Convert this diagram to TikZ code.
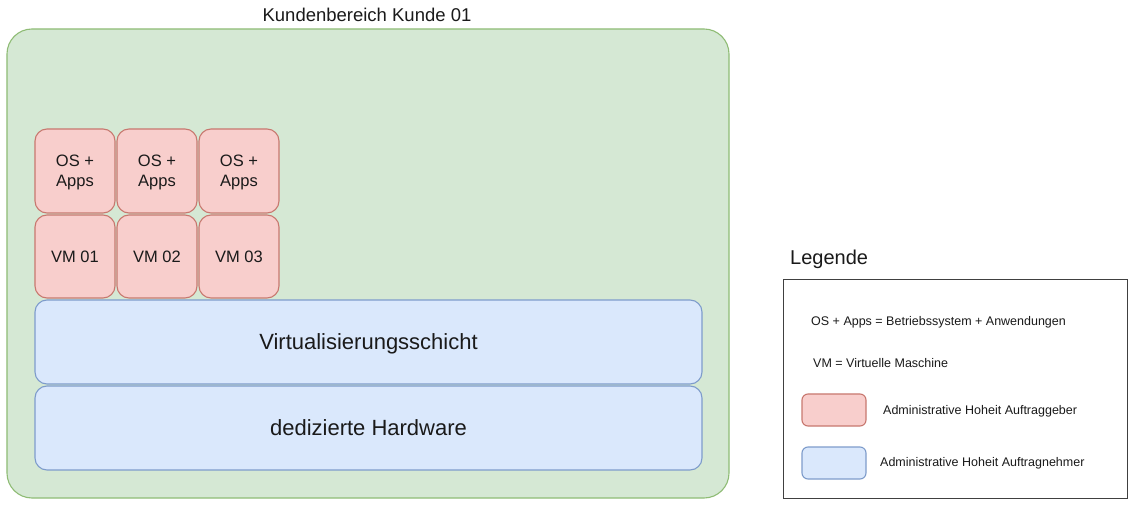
\documentclass[tikz,border=0pt]{standalone}
\usepackage{fontspec}
\setmainfont{Liberation Sans}
\definecolor{gfill}{HTML}{D5E8D4}
\definecolor{gdraw}{HTML}{8FBC75}
\definecolor{rfill}{HTML}{F8CECC}
\definecolor{rdraw}{HTML}{C8786F}
\definecolor{bfill}{HTML}{DAE8FC}
\definecolor{bdraw}{HTML}{7E9CCB}
\definecolor{txt}{HTML}{1A1A1A}
\newcommand{\fs}[2]{\fontsize{#1bp}{#2bp}\selectfont}
\tikzset{
  box/.style={rectangle, inner sep=0pt, line width=1.1bp, text=txt, align=center},
  areabox/.style={box, draw=gdraw, fill=gfill, rounded corners=25bp},
  redbox/.style={box, draw=rdraw, fill=rfill, rounded corners=12bp, minimum width=80bp, font=\fs{16.5}{20}, text depth=0pt},
  bluebox/.style={box, draw=bdraw, fill=bfill, rounded corners=12bp, minimum width=667bp, minimum height=84bp, font=\fs{22}{26}, text depth=0pt},
  lbl/.style={inner sep=0pt, text=txt},
  legtxt/.style={lbl, anchor=west, font=\fs{12.5}{15}},
  swatch/.style={box, rounded corners=6bp, minimum width=64bp, minimum height=32bp}
}
\begin{document}
\begin{tikzpicture}[x=1bp,y=-1bp]
\useasboundingbox (0,0) rectangle (1140,510);
\fill[white] (0,0) rectangle (1140,510);
% customer area
\node[areabox, minimum width=722bp, minimum height=469bp] (area) at (368,263.5) {};
\node[lbl, font=\fs{18.5}{22}] (title) at (367,15) {Kundenbereich Kunde 01};
% OS + Apps
\node[redbox, minimum height=84bp] (os1) at (75,171) {OS +\\Apps};
\node[redbox, minimum height=84bp] (os2) at (157,171) {OS +\\Apps};
\node[redbox, minimum height=84bp] (os3) at (239,171) {OS +\\Apps};
% VMs
\node[redbox, minimum height=83bp] (vm1) at (75,256.5) {VM 01};
\node[redbox, minimum height=83bp] (vm2) at (157,256.5) {VM 02};
\node[redbox, minimum height=83bp] (vm3) at (239,256.5) {VM 03};
% layers
\node[bluebox] (virt) at (368.5,342) {Virtualisierungsschicht};
\node[bluebox] (hw) at (368.5,428) {dedizierte Hardware};
% legend
\node[lbl, anchor=west, font=\fs{20}{24}] (legtitle) at (790,259) {Legende};
\node[rectangle, draw=black!75, line width=1bp, minimum width=344bp, minimum height=218bp, inner sep=0pt] (legbox) at (955,389) {};
\node[legtxt] (leg1) at (811,322.5) {OS + Apps = Betriebssystem + Anwendungen};
\node[legtxt] (leg2) at (813,363.5) {VM = Virtuelle Maschine};
\node[swatch, draw=rdraw, fill=rfill] (sw1) at (834,410) {};
\node[legtxt] (leg3) at (883,411) {Administrative Hoheit Auftraggeber};
\node[swatch, draw=bdraw, fill=bfill] (sw2) at (834,463) {};
\node[legtxt] (leg4) at (880,463.5) {Administrative Hoheit Auftragnehmer};
\end{tikzpicture}
\end{document}
